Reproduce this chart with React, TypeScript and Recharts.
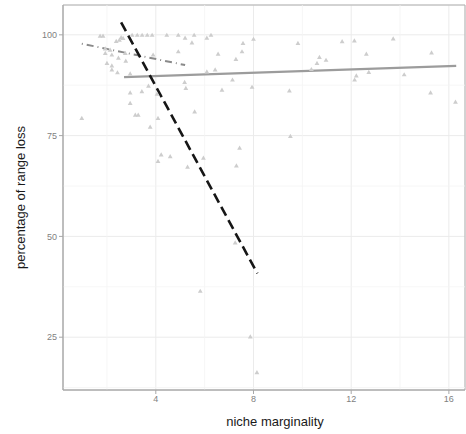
import { ComposedChart, Scatter, Line, XAxis, YAxis, CartesianGrid, ReferenceLine, ReferenceArea } from 'recharts';

// niche marginality (x) and percentage of range loss (y)
const marginality = [
  0.97, 1.72, 1.84, 2.58, 2.51, 2.38, 2.66, 3.03, 3.24, 3.44, 3.65, 3.85, 4.45, 4.92, 5.2, 5.57,
  6.09, 6.26, 1.93, 1.93, 2.13, 2.2, 2.47, 2.0, 2.2, 2.2, 2.43, 2.95, 2.75, 2.77, 3.89, 4.92,
  5.48, 6.55, 7.28, 7.57, 7.53, 8.0, 6.09, 6.43, 5.18, 5.23, 7.14, 7.94, 6.71, 3.7, 2.95, 3.43,
  4.05, 2.95, 3.16, 3.28, 4.09, 5.59, 3.77, 9.82, 11.63, 12.13, 13.72, 15.29, 12.62, 10.7, 10.6,
  10.97, 10.37, 12.72, 12.21, 12.14, 14.17, 9.47, 15.25, 16.27, 9.51, 4.09, 4.22, 4.59, 5.3,
  5.95, 7.3, 7.43, 7.25, 7.87, 8.14, 5.82,
];
const rangeLoss = [
  79.3, 99.7, 99.7, 99.3, 98.7, 98.4, 99.1, 99.9, 99.9, 99.9, 99.9, 99.9, 99.9, 99.9, 99.2, 99.9,
  99.2, 99.9, 96.5, 95.4, 96.2, 95.0, 94.2, 92.9, 92.3, 91.3, 90.6, 90.3, 95.4, 93.5, 95.0, 95.8,
  98.0, 95.2, 93.9, 97.9, 95.8, 98.9, 90.8, 91.3, 88.2, 86.7, 88.8, 87.0, 86.3, 87.3, 85.6, 85.9,
  85.3, 83.0, 80.1, 80.1, 79.3, 80.9, 77.1, 97.9, 98.3, 98.5, 99.0, 95.5, 95.2, 94.4, 92.9,
  93.7, 91.4, 90.7, 89.8, 88.8, 90.1, 86.1, 85.6, 83.3, 74.8, 68.6, 70.2, 69.8, 67.2,
  69.4, 67.5, 71.9, 48.4, 25.1, 16.2, 36.4,
];

// fitted lines (end points)
const steepFitX = [2.58, 8.16];
const steepFitY = [103.1, 40.8];
const overallFitX = [2.7, 16.3];
const overallFitY = [89.5, 92.3];
const lowFitX = [0.97, 5.2];
const lowFitY = [97.8, 92.5];

const xTicks = [4, 8, 12, 16];
const yTicks = [25, 50, 75, 100];
const xMinor = [2, 6, 10, 14];
const yMinor = [12.5, 37.5, 62.5, 87.5];
const xDomain = [0.2, 16.66];
const yDomain = [11.9, 107.4];

const points = marginality.map((x, i) => ({ x, y: rangeLoss[i] }));
const toLine = (xs: number[], ys: number[]) => xs.map((x, i) => ({ x, y: ys[i] }));

const font = '"Liberation Sans", Arial, sans-serif';

const Triangle = (props: any) => {
  const { cx, cy } = props;
  if (cx == null || cy == null) return null;
  return <polygon points={`${cx},${cy - 2.6} ${cx - 2.4},${cy + 1.6} ${cx + 2.4},${cy + 1.6}`} fill="#cdcdcd" />;
};

const YTitle = (props: any) => {
  const vb = props.viewBox || {};
  const cx = 20;
  const cy = vb.y + vb.height / 2;
  return (
    <text x={cx} y={cy} transform={`rotate(-90, ${cx}, ${cy})`} textAnchor="middle" dominantBaseline="central"
      fontSize={13} fill="#1a1a1a" fontFamily={font}>
      percentage of range loss
    </text>
  );
};

const XTitle = (props: any) => {
  const vb = props.viewBox || {};
  const cx = vb.x + vb.width / 2 + 11;
  return (
    <text x={cx} y={426} textAnchor="middle" fontSize={13} fill="#1a1a1a" fontFamily={font}>
      niche marginality
    </text>
  );
};

export default function App() {
  return (
    <div style={{ position: 'absolute', left: 0, top: 0, width: 466, height: 434, overflow: 'hidden', background: '#fff' }}>
      <ComposedChart width={466} height={434} margin={{ top: 5, right: 1, bottom: 0, left: 0 }}>
        <CartesianGrid stroke="#ebebeb" strokeWidth={1} />
        {xMinor.map((v) => (
          <ReferenceLine key={'mx' + v} x={v} stroke="#f4f4f4" strokeWidth={0.8} />
        ))}
        {yMinor.map((v) => (
          <ReferenceLine key={'my' + v} y={v} stroke="#f4f4f4" strokeWidth={0.8} />
        ))}
        <XAxis
          type="number"
          dataKey="x"
          domain={xDomain}
          ticks={xTicks}
          allowDataOverflow
          height={44}
          tickSize={4}
          stroke="#a8a8a8"
          tick={{ fill: '#7f7f7f', fontSize: 9, fontFamily: font }}
          label={<XTitle />}
        />
        <YAxis
          type="number"
          dataKey="y"
          domain={yDomain}
          ticks={yTicks}
          allowDataOverflow
          width={63}
          tickSize={4}
          stroke="#a8a8a8"
          tick={{ fill: '#7f7f7f', fontSize: 9, fontFamily: font }}
          label={<YTitle />}
        />
        <ReferenceArea x1={xDomain[0]} x2={xDomain[1]} y1={yDomain[0]} y2={yDomain[1]} fill="none" stroke="#b0b0b0" strokeWidth={1} />
        <Scatter data={points} shape={<Triangle />} isAnimationActive={false} />
        <Line data={toLine(overallFitX, overallFitY)} dataKey="y" stroke="#9c9c9c" strokeWidth={2.4} dot={false} isAnimationActive={false} />
        <Line data={toLine(lowFitX, lowFitY)} dataKey="y" stroke="#8a8a8a" strokeWidth={2} strokeDasharray="1 4 7 4" dot={false} isAnimationActive={false} />
        <Line data={toLine(steepFitX, steepFitY)} dataKey="y" stroke="#161616" strokeWidth={2.6} strokeDasharray="10 5" dot={false} isAnimationActive={false} />
      </ComposedChart>
    </div>
  );
}
